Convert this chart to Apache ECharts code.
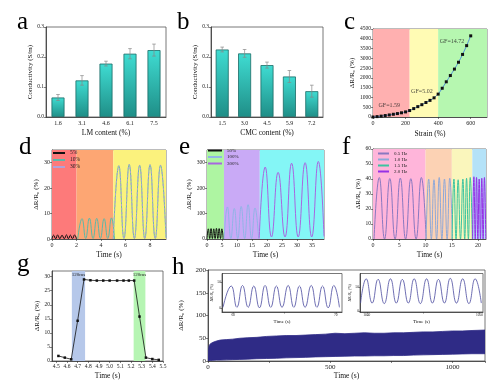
<!DOCTYPE html>
<html><head><meta charset="utf-8">
<script src="https://cdn.jsdelivr.net/npm/echarts@6/dist/echarts.min.js"></script>
<style>html,body{margin:0;padding:0;background:#fff}#c{width:500px;height:390px}</style>
</head><body><div id="c"></div>
<script>
// ---------- DATA ----------
// (a) conductivity vs LM content
const lmContent = ['1.6', '3.1', '4.6', '6.1', '7.5'];
const lmConductivity = [0.065, 0.122, 0.178, 0.211, 0.223];
const lmError = [0.010, 0.016, 0.008, 0.017, 0.020];
// (b) conductivity vs CMC content
const cmcContent = ['1.5', '3.0', '4.5', '5.9', '7.2'];
const cmcConductivity = [0.225, 0.212, 0.173, 0.135, 0.086];
const cmcError = [0.008, 0.013, 0.010, 0.020, 0.020];
// (c) response vs strain
const strain = [0, 25, 50, 75, 100, 125, 150, 175, 200, 225, 250, 275, 300, 325, 350, 375, 400, 425, 450, 475, 500, 525, 550, 575, 600];
const strainResponse = [0, 20, 45, 75, 105, 140, 175, 215, 260, 330, 430, 530, 630, 740, 850, 980, 1170, 1470, 1800, 2120, 2450, 2800, 3200, 3650, 4150];
const strainRegions = [[0, 225], [225, 400], [400, 700]];
const gfLabels = ['GF=1.59', 'GF=5.02', 'GF=14.72'];
const gfAnchor = [[100, 600], [300, 1300], [485, 3850]];
// (d) different strains, small range
const d5Time = [0, 0.13, 0.3, 0.46, 0.64, 0.82, 1.0, 1.18, 1.34, 1.5, 1.67, 1.84, 2.0];
const d5Val = [0, 1.5, 0.1, 1.6, 0.1, 1.5, 0.1, 1.6, 0.1, 1.5, 0.1, 1.6, 0];
const d10Time = [2.1, 2.45, 2.75, 3.05, 3.35, 3.65, 3.95, 4.25, 4.55, 4.85, 5.1];
const d10Val = [0, 8.0, 0.2, 8.2, 0.2, 8.1, 0.2, 8.0, 0.2, 8.3, 0];
const d30Time = [5.0, 5.45, 5.87, 6.3, 6.72, 7.15, 7.57, 8.0, 8.42, 8.85, 9.3];
const d30Val = [0, 28.8, 0.2, 29.3, 0.2, 29.0, 0.2, 29.2, 0.2, 29.0, 0.5];
const dRegions = [[0, 2], [2, 5], [5, 9.3]];
// (e) different strains, large range
const e50Time = [0, 0.45, 0.9, 1.35, 1.8, 2.25, 2.7, 3.15, 3.6, 4.05, 4.5, 4.95, 5.4];
const e50Val = [0, 40, 2, 41, 2, 40, 2, 42, 2, 41, 2, 40, 0];
const e100Time = [5.7, 6.8, 7.95, 9.1, 10.25, 11.4, 12.55, 13.7, 14.85, 16.0, 17.2];
const e100Val = [0, 126, 2, 120, 2, 128, 2, 135, 2, 122, 2];
const e300Time = [17.4, 19.4, 21.5, 23.7, 26.0, 28.2, 30.4, 32.7, 34.9, 37.1, 39.0];
const e300Val = [3, 283, 8, 262, 8, 298, 8, 300, 8, 305, 10];
const eRegions = [[0, 5.65], [5.65, 17.6], [17.6, 39]];
// (f) different frequencies
const f05Time = [0.2, 1.2, 2.2, 3.2, 4.2, 5.2, 6.2, 7.2, 8.2, 9.2, 10.1];
const f05Val = [0, 41, 0, 40.3, 0, 40.6, 0, 40.2, 0, 41, 0];
const f10Time = [10.1, 10.6, 11.1, 11.6, 12.1, 12.6, 13.1, 13.6, 14.1, 14.6, 15.1];
const f10Val = [0, 40, 0, 39.5, 0, 41, 0, 40, 0, 40.5, 0];
const f15Time = [15.05, 15.4, 15.8, 16.2, 16.65, 17.1, 17.45, 17.8, 18.15, 18.5, 18.9];
const f15Val = [0, 40, 0, 39.5, 0, 40, 0, 40.5, 0, 41, 0];
const f20Time = [18.95, 19.2, 19.45, 19.7, 19.95, 20.2, 20.45, 20.7, 20.95, 21.2, 21.45];
const f20Val = [0, 41.5, 0, 41, 0, 40, 0, 40.5, 0, 41, 0];
const fRegions = [[0, 10], [10, 15], [15, 18.9], [18.9, 21.5]];
// (g) response time
const gTime = [4.52, 4.58, 4.64, 4.70, 4.76, 4.82, 4.88, 4.94, 5.00, 5.07, 5.13, 5.18, 5.23, 5.28, 5.34, 5.40, 5.46];
const gResponse = [1.8, 1.2, 0.6, 14.3, 29.0, 28.7, 28.6, 28.6, 28.6, 28.6, 28.6, 28.6, 28.6, 15.8, 1.2, 0.7, 0.4];
const gRegions = [[4.646, 4.77], [5.225, 5.335]];
const gRegionLabels = ['120ms', '120ms'];
const gTickLabels = [4.5, 4.6, 4.7, 4.8, 4.9, 5.0, 5.1, 5.2, 5.3, 5.4, 5.5];
// (h) long-term cycling envelope
const hTime = [0, 2, 5, 10, 20, 35, 50, 75, 100, 130, 160, 200, 240, 280, 320, 360, 400, 440, 480, 520, 560, 600, 640, 680, 720, 760, 800, 840, 880, 920, 960, 1000, 1040, 1080, 1133];
const hUpper = [2, 25, 34, 38, 41, 44, 46, 47, 48, 50, 51, 52, 54, 55, 56, 56, 57, 58, 59, 61, 60, 61, 62, 61, 61, 62, 62, 63, 64, 64, 65, 66, 66, 67, 68];
const hLower = [0, 0, 0.5, 1, 1.5, 2, 2, 2.5, 3, 3.5, 4, 5, 5.5, 6, 7, 7.5, 8, 9, 9.5, 10, 10.5, 11, 11, 11.5, 11.5, 12, 12, 13, 13.5, 14, 14.5, 15, 15.5, 16, 16];
// insets of (h)
const in1Time = [59.0, 59.8, 60.35, 60.9, 61.45, 62.0, 62.55, 63.1, 63.65, 64.2, 64.75, 65.35, 65.9, 66.45, 67.0, 67.6, 68.15, 68.7, 69.25, 69.8, 70.35];
const in1Val = [2, 43, 2, 44, 2, 43, 1, 44, 2, 43, 2, 44, 2, 43, 2, 44, 2, 43, 1, 44, 2];
const in2Time = [1039.45, 1039.95, 1040.48, 1041.0, 1041.55, 1042.1, 1042.62, 1043.15, 1043.68, 1044.2, 1044.75, 1045.3, 1045.82, 1046.35, 1046.88, 1047.4, 1047.95, 1048.5, 1049.05, 1049.6, 1050.15];
const in2Val = [17, 67, 17, 66, 16, 67, 17, 66, 17, 67, 16, 67, 17, 66, 17, 68, 17, 67, 16, 67, 17];

// ---------- STYLE / HELPERS ----------
const F = 'Liberation Serif';
const chart = echarts.init(document.getElementById('c'), null, { renderer: 'canvas', width: 500, height: 390 });
const pair = (xs, ys) => xs.map((x, i) => [x, ys[i]]);
const plain = v => String(v);

function grid(l, t, w, h, bg) {
  return { left: l, top: t, width: w, height: h, show: true, borderColor: '#555', borderWidth: 0.8, backgroundColor: bg || 'transparent' };
}
function axis(gi, o) {
  const lab = Object.assign({ fontFamily: F, fontSize: 6, color: '#222', margin: 2, formatter: plain }, o.label || {});
  const a = {
    gridIndex: gi, type: o.type || 'value', nameLocation: 'middle',
    name: o.name || '', nameGap: o.nameGap || 10,
    nameTextStyle: { fontFamily: F, fontSize: o.nameSize || 7.5, color: '#111' },
    axisLine: { show: true, onZero: false, lineStyle: { color: '#333', width: 0.8 } },
    axisTick: Object.assign({ show: true, inside: false, length: 2, lineStyle: { color: '#333', width: 0.6 } }, o.tick || {}),
    splitLine: { show: false },
    axisLabel: lab
  };
  if (a.type === 'category') delete a.axisLabel.formatter;
  ['min', 'max', 'interval', 'data', 'minorTick', 'boundaryGap'].forEach(k => { if (o[k] !== undefined) a[k] = o[k]; });
  return a;
}
const bandSeries = (xi, regions, colors, extra) => ({
  type: 'line', xAxisIndex: xi, yAxisIndex: xi, data: [], z: 1, silent: true,
  markArea: Object.assign({ silent: true, data: regions.map((r, i) => [{ xAxis: r[0], itemStyle: { color: colors[i] } }, { xAxis: r[1] }]) }, extra || {})
});
const wave = (xi, name, xs, ys, color, extra) => Object.assign({
  type: 'line', name: name, xAxisIndex: xi, yAxisIndex: xi, data: pair(xs, ys), smooth: true, symbol: 'none', z: 3,
  lineStyle: { color: color, width: 1 }, itemStyle: { color: color }
}, extra || {});
const barGrad = () => new echarts.graphic.LinearGradient(0, 0, 0, 1, [{ offset: 0, color: '#3fdcd2' }, { offset: 1, color: '#1f8e87' }]);
const errSeries = (xi, vals, errs) => ({
  type: 'custom', xAxisIndex: xi, yAxisIndex: xi, z: 5,
  data: vals.map((v, i) => [i, v - errs[i], v + errs[i]]),
  encode: { x: 0, y: [1, 2] },
  renderItem: function (p, api) {
    const lo = api.coord([api.value(0), api.value(1)]);
    const hi = api.coord([api.value(0), api.value(2)]);
    const w = 1.8, st = { stroke: '#888', lineWidth: 0.7 };
    return { type: 'group', children: [
      { type: 'line', shape: { x1: lo[0], y1: lo[1], x2: hi[0], y2: hi[1] }, style: st },
      { type: 'line', shape: { x1: hi[0] - w, y1: hi[1], x2: hi[0] + w, y2: hi[1] }, style: st },
      { type: 'line', shape: { x1: lo[0] - w, y1: lo[1], x2: lo[0] + w, y2: lo[1] }, style: st }
    ] };
  }
});
const legendStyle = { fontFamily: F, fontSize: 5.5, color: '#222' };
const dR = 'ΔR/R₀ (%)';

const option = {
  animation: false,
  backgroundColor: '#fff',
  grid: [
    grid(46, 27, 120, 90),   // a
    grid(211, 27, 112, 90),  // b
    grid(373, 29, 114, 88),  // c
    grid(52, 150, 114, 89),  // d
    grid(207, 150, 117, 89), // e
    grid(373, 149, 113, 90), // f
    grid(52, 271, 111, 90),  // g
    grid(208, 270, 277, 91), // h
    grid(222, 273.5, 120, 38.5, '#fff'), // inset 1
    grid(360, 273.5, 123, 38.5, '#fff')  // inset 2
  ],
  xAxis: [
    axis(0, { type: 'category', data: lmContent, name: 'LM content (%)', nameGap: 12, label: { margin: 3 }, tick: { show: false } }),
    axis(1, { type: 'category', data: cmcContent, name: 'CMC content (%)', nameGap: 12, label: { margin: 3 }, tick: { show: false } }),
    axis(2, { min: 0, max: 700, interval: 200, name: 'Strain (%)', nameGap: 13, label: { showMaxLabel: false, margin: 3 } }),
    axis(3, { min: 0, max: 9.3, interval: 2, name: 'Time (s)', nameGap: 12, label: { showMaxLabel: false, margin: 3 } }),
    axis(4, { min: 0, max: 39, interval: 5, name: 'Time (s)', nameGap: 12, label: { showMaxLabel: false, margin: 3 } }),
    axis(5, { min: 0, max: 21.5, interval: 5, name: 'Time (s)', nameGap: 12, label: { showMaxLabel: false, margin: 3 } }),
    axis(6, { min: 4.46, max: 5.5, name: 'Time (s)', nameGap: 11, label: { customValues: gTickLabels, formatter: v => v.toFixed(1), fontSize: 5.5, margin: 3 }, tick: { customValues: gTickLabels } }),
    axis(7, { min: 0, max: 1133, interval: 500, name: 'Time (s)', nameGap: 10, label: { showMaxLabel: false, fontSize: 7, margin: 3 }, minorTick: { show: true, splitNumber: 2, length: 2, lineStyle: { color: '#333', width: 0.6 } } }),
    axis(8, { min: 58.9, max: 70.6, name: 'Time (s)', nameGap: 7, nameSize: 5, label: { customValues: [60, 70], fontSize: 3.5, margin: 1.5 }, tick: { customValues: [60, 65, 70], length: 1.5 } }),
    axis(9, { min: 1039.4, max: 1050.3, name: 'Time (s)', nameGap: 7, nameSize: 5, label: { customValues: [1040, 1050], fontSize: 3.5, margin: 1.5 }, tick: { customValues: [1040, 1045, 1050], length: 1.5 } })
  ],
  yAxis: [
    axis(0, { min: 0, max: 0.3, interval: 0.1, name: 'Conductivity (S/m)', nameGap: 8, nameSize: 7, label: { formatter: v => v.toFixed(1), fontSize: 5.5 } }),
    axis(1, { min: 0, max: 0.3, interval: 0.1, name: 'Conductivity (S/m)', nameGap: 8, nameSize: 7, label: { formatter: v => v.toFixed(1), fontSize: 5.5 } }),
    axis(2, { min: 0, max: 4500, interval: 500, name: dR, nameGap: 13, nameSize: 7, label: { fontSize: 5.5 } }),
    axis(3, { min: 0, max: 35, interval: 10, name: dR, nameGap: 6, nameSize: 7, label: { showMaxLabel: false } }),
    axis(4, { min: 0, max: 350, interval: 100, name: dR, nameGap: 8, nameSize: 7, label: { showMaxLabel: false, fontSize: 5.5 } }),
    axis(5, { min: 0, max: 60, interval: 10, name: dR, nameGap: 6, nameSize: 7, label: { fontSize: 5.5 } }),
    axis(6, { min: 0, max: 32, interval: 5, name: dR, nameGap: 10, nameSize: 7, label: { showMaxLabel: false, fontSize: 5.5 } }),
    axis(7, { min: 0, max: 200, interval: 50, name: dR, nameGap: 17, nameSize: 7, label: { fontSize: 7 } }),
    axis(8, { min: -7, max: 67, name: dR, nameGap: 5, nameSize: 4, label: { customValues: [0, 50], fontSize: 3.5, margin: 1 }, tick: { customValues: [0, 50], length: 1.5 } }),
    axis(9, { min: -1.4, max: 78, name: dR, nameGap: 5, nameSize: 4, label: { customValues: [0, 50], fontSize: 3.5, margin: 1 }, tick: { customValues: [0, 50], length: 1.5 } })
  ],
  legend: [
    { data: ['5%', '10%', '30%'], orient: 'vertical', left: 53, top: 150, itemWidth: 12, itemHeight: 2, itemGap: 1, icon: 'rect', padding: 0, selectedMode: false, textStyle: legendStyle },
    { data: ['50%', '100%', '300%'], orient: 'vertical', left: 208, top: 148, itemWidth: 14, itemHeight: 2, itemGap: 1.5, icon: 'rect', padding: 0, selectedMode: false, textStyle: Object.assign({}, legendStyle, { fontSize: 5 }) },
    { data: ['0.5 Hz', '1.0 Hz', '1.5 Hz', '2.0 Hz'], orient: 'vertical', left: 378, top: 151, itemWidth: 11, itemHeight: 2, itemGap: 1, icon: 'rect', padding: 0, selectedMode: false, textStyle: Object.assign({}, legendStyle, { fontSize: 5 }) }
  ],
  series: [
    // a
    { type: 'bar', xAxisIndex: 0, yAxisIndex: 0, data: lmConductivity, barWidth: 13, itemStyle: { color: barGrad(), borderColor: '#1a6b66', borderWidth: 0.8 }, z: 2 },
    errSeries(0, lmConductivity, lmError),
    // b
    { type: 'bar', xAxisIndex: 1, yAxisIndex: 1, data: cmcConductivity, barWidth: 13, itemStyle: { color: barGrad(), borderColor: '#1a6b66', borderWidth: 0.8 }, z: 2 },
    errSeries(1, cmcConductivity, cmcError),
    // c
    bandSeries(2, strainRegions, ['#ffb0b0', '#fffbb4', '#b6f7b0']),
    { type: 'line', xAxisIndex: 2, yAxisIndex: 2, data: pair(strain, strainResponse), smooth: 0.3, symbol: 'rect', symbolSize: 3,
      lineStyle: { color: '#4d8fd6', width: 1 }, itemStyle: { color: '#111' }, z: 3 },
    { type: 'scatter', xAxisIndex: 2, yAxisIndex: 2, symbolSize: 0, z: 4, silent: true,
      data: gfAnchor.map((p, i) => ({ value: p, name: gfLabels[i] })),
      label: { show: true, position: 'inside', formatter: p => p.name, fontFamily: F, fontSize: 6, color: '#222' } },
    // d
    bandSeries(3, dRegions, ['#fd7a7a', '#fda673', '#fbf27d']),
    wave(3, '5%', d5Time, d5Val, '#111'),
    wave(3, '10%', d10Time, d10Val, '#5db8a8'),
    wave(3, '', d30Time, d30Val, '#6fb5ad'),
    wave(3, '30%', d30Time, d30Val, '#b0a2d8', { lineStyle: { color: '#b0a2d8', width: 1, type: [2, 2] } }),
    // e
    bandSeries(4, eRegions, ['#aef5a2', '#c9aaf6', '#84f6f6']),
    wave(4, '50%', e50Time, e50Val, '#111'),
    wave(4, '100%', e100Time, e100Val, '#92b4e6'),
    wave(4, '300%', e300Time, e300Val, '#a866e0'),
    // f
    bandSeries(5, fRegions, ['#ffb5da', '#fcd2b4', '#faf6bc', '#b4e2f8']),
    wave(5, '0.5 Hz', f05Time, f05Val, '#8a78c0'),
    wave(5, '1.0 Hz', f10Time, f10Val, '#8ea8d8'),
    wave(5, '1.5 Hz', f15Time, f15Val, '#3cc4a0'),
    wave(5, '2.0 Hz', f20Time, f20Val, '#9630e6'),
    // g
    bandSeries(6, gRegions, ['#b6c8ea', '#b6f5b3'], {
      label: { show: true, position: 'insideTop', distance: 1, fontFamily: F, fontSize: 5, color: '#222' } }),
    { type: 'line', xAxisIndex: 6, yAxisIndex: 6, data: pair(gTime, gResponse), symbol: 'rect', symbolSize: 2.5,
      lineStyle: { color: '#111', width: 0.8 }, itemStyle: { color: '#111' }, z: 3 },
    // h : band between lower and upper envelopes, drawn through the axis scale
    { type: 'custom', xAxisIndex: 7, yAxisIndex: 7, z: 3, clip: true,
      data: hTime.map((t, i) => [t, hLower[i], hUpper[i]]),
      encode: { x: 0, y: [1, 2] },
      renderItem: function (p, api) {
        if (p.dataIndex !== 0) return null;
        const top = hTime.map((t, i) => api.coord([t, hUpper[i]]));
        const bot = hTime.map((t, i) => api.coord([t, hLower[i]])).reverse();
        return { type: 'polygon', shape: { points: top.concat(bot) }, style: { fill: '#2f2b86', stroke: '#2f2b86', lineWidth: 0.8 } };
      } },
    // insets
    wave(8, '', in1Time, in1Val, '#4a4aa0', { lineStyle: { color: '#4a4aa0', width: 0.8 } }),
    wave(9, '', in2Time, in2Val, '#4a4aa0', { lineStyle: { color: '#4a4aa0', width: 0.8 } })
  ],
  graphic: [
    ['a', 17, 10], ['b', 177, 10], ['c', 344, 10], ['d', 19, 135], ['e', 179, 135], ['f', 342, 135], ['g', 17, 252], ['h', 172, 255]
  ].map(t => ({ type: 'text', left: t[1], top: t[2], silent: true, style: { text: t[0], font: '25px "Liberation Serif"', fill: '#000' } }))
};
option.series.forEach(s => {
  if (s.markArea && s.xAxisIndex === 6) s.markArea.data.forEach((d, i) => { d[0].name = gRegionLabels[i]; });
});
chart.setOption(option);
</script>
</body></html>
